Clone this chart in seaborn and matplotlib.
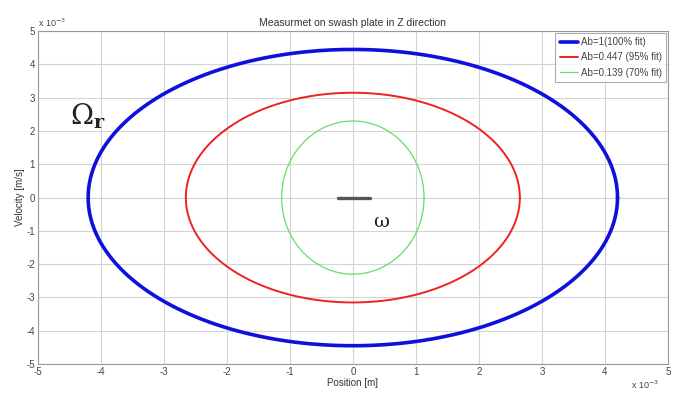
import numpy as np
import pandas as pd
import matplotlib
matplotlib.use("Agg")
import matplotlib.pyplot as plt
import seaborn as sns

# Phase portraits (position vs velocity) on the swash plate, scaled by 1e-3
labels = ["Ab=1(100% fit)", "Ab=0.447 (95% fit)", "Ab=0.139 (70% fit)"]
pos_amp = [4.2, 2.65, 1.13]      # semi-axis along position
vel_amp = [4.45, 3.15, 2.3]      # semi-axis along velocity
colors = ["#1010dd", "#ee2222", "#66dd66"]
widths = [2.6, 1.4, 0.9]

# short reference segment at the origin
omega_x = [-0.24, 0.27]
omega_y = [0.0, 0.0]

xticks = list(range(-5, 6))
yticks = list(range(-5, 6))

sns.set_theme(style="whitegrid")
plt.rcParams["font.family"] = ["Liberation Sans", "DejaVu Sans"]
plt.rcParams["axes.unicode_minus"] = False

fig = plt.figure(figsize=(6.74, 3.94), dpi=100)
ax = fig.add_axes([0.056, 0.076, 0.935, 0.845])

t = np.linspace(0, 2 * np.pi, 400)
frames = []
for lab, a, b in zip(labels, pos_amp, vel_amp):
    frames.append(pd.DataFrame({"Position": a * np.cos(t), "Velocity": b * np.sin(t),
                                "series": lab, "order": np.arange(t.size)}))
df = pd.concat(frames, ignore_index=True)

for lab, c, w in zip(labels, colors, widths):
    sub = df[df["series"] == lab]
    sns.lineplot(data=sub, x="Position", y="Velocity", sort=False, estimator=None,
                 color=c, linewidth=w, label=lab, ax=ax)

sns.lineplot(x=omega_x, y=omega_y, color="#555555", linewidth=2.4, ax=ax, legend=False)

ax.set_xlim(-5, 5)
ax.set_ylim(-5, 5)
ax.set_xticks(xticks)
ax.set_yticks(yticks)
ax.tick_params(labelsize=7, colors="#444444", length=0, pad=2)
ax.grid(True, color="#d4d4d4", linewidth=0.8)
for s in ax.spines.values():
    s.set_color("#999999")
    s.set_linewidth(0.8)

ax.set_title("Measurmet on swash plate in Z direction", fontsize=7.5, color="#333333", pad=4)
ax.set_xlabel("Position [m]", fontsize=7, color="#333333", labelpad=1)
ax.set_ylabel("Velocity [m/s]", fontsize=7, color="#333333", labelpad=1)

ax.text(0.0, 1.005, r"x 10$^{-3}$", transform=ax.transAxes, fontsize=6.5,
        color="#444444", ha="left", va="bottom")
ax.text(0.985, -0.045, r"x 10$^{-3}$", transform=ax.transAxes, fontsize=6.5,
        color="#444444", ha="right", va="top")

ax.text(-4.2, 2.45, r"$\Omega_{\mathbf{r}}$", fontsize=20,
        color="#222222", ha="center", va="center", math_fontfamily="dejavuserif")
ax.text(0.45, -0.72, "\u03c9", fontsize=14, family="DejaVu Serif", color="#222222",
        ha="center", va="center")

leg = ax.legend(loc="upper right", fontsize=7, frameon=True, fancybox=False,
                borderpad=0.45, handlelength=1.9, handletextpad=0.3,
                labelspacing=0.55, borderaxespad=0.15)
leg.get_frame().set_edgecolor("#999999")
leg.get_frame().set_linewidth(0.8)
for txt in leg.get_texts():
    txt.set_color("#444444")

fig.savefig("out.png", dpi=100)
